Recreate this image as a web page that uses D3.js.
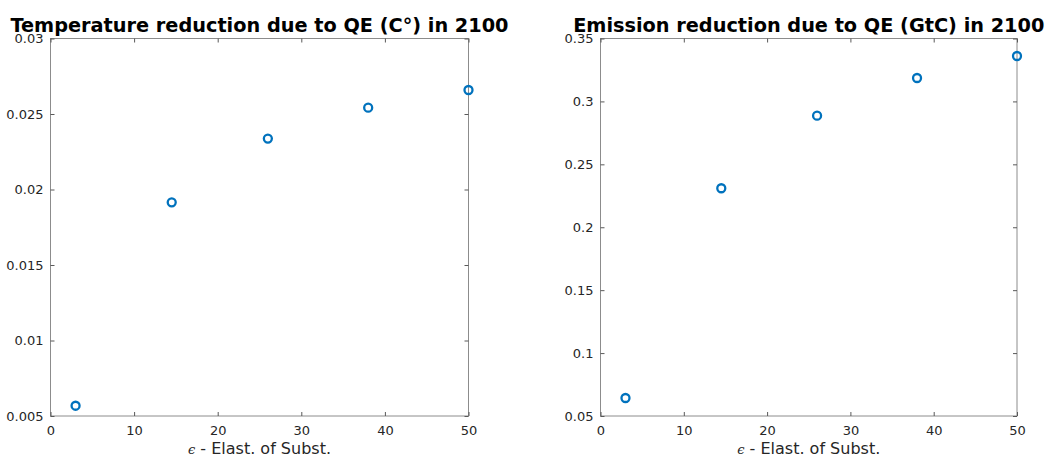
<!DOCTYPE html>
<html>
<head>
<meta charset="utf-8">
<script src="https://cdn.jsdelivr.net/npm/d3@7"></script>
<style>
  body { margin: 0; background: #fff; }
  svg { display: block; font-family: "DejaVu Sans", sans-serif; }
  .tick text { fill: #262626; font-size: 13px; font-family: "DejaVu Sans", sans-serif; }
  .domain { display: none; }
</style>
</head>
<body>
<svg id="fig" width="1046" height="458"></svg>
<script>
// valeurs
const elasticite = [3, 14.5, 26, 38, 50];
const tempReduction = [0.00568, 0.01915, 0.02337, 0.02542, 0.02659];
const emisReduction = [0.0643, 0.231, 0.2887, 0.3186, 0.3361];

const xTicks = [0, 10, 20, 30, 40, 50];
const tempTicks = [0.005, 0.01, 0.015, 0.02, 0.025, 0.03];
const emisTicks = [0.05, 0.1, 0.15, 0.2, 0.25, 0.3, 0.35];

const titres = ["Temperature reduction due to QE (C°) in 2100",
                "Emission reduction due to QE (GtC) in 2100"];

const svg = d3.select("#fig");

function drawPanel(left, right, yVals, yTicks, titre) {
    const top = 38.5, bottom = 416;
    const g = svg.append("g");

    const x = d3.scaleLinear().domain([0, 50]).range([left, right]);
    const y = d3.scaleLinear().domain([yTicks[0], yTicks[yTicks.length - 1]]).range([bottom, top]);

    // boite
    g.append("rect")
        .attr("x", left).attr("y", top)
        .attr("width", right - left).attr("height", bottom - top)
        .attr("fill", "none").attr("stroke", "#8c8c8c").attr("stroke-width", 1);

    // axes avec ticks vers l'intérieur
    g.append("g").attr("transform", "translate(0," + bottom + ")")
        .call(d3.axisBottom(x).tickValues(xTicks).tickSizeInner(-4).tickSizeOuter(0).tickPadding(10).tickFormat(d3.format("d")));
    g.append("g").attr("transform", "translate(0," + top + ")")
        .call(d3.axisTop(x).tickValues(xTicks).tickSizeInner(-4).tickSizeOuter(0).tickFormat(""));
    g.append("g").attr("transform", "translate(" + left + ",0)")
        .call(d3.axisLeft(y).tickValues(yTicks).tickSizeInner(-4).tickSizeOuter(0).tickPadding(7).tickFormat(d => d3.format("~g")(+d.toFixed(4))));
    g.append("g").attr("transform", "translate(" + right + ",0)")
        .call(d3.axisRight(y).tickValues(yTicks).tickSizeInner(-4).tickSizeOuter(0).tickFormat(""));

    g.selectAll(".tick line").attr("stroke", "#595959");

    // titre
    g.append("text")
        .attr("x", (left + right) / 2).attr("y", 31.5)
        .attr("text-anchor", "middle")
        .style("font-weight", "bold").style("font-size", "19.3px")
        .text(titre);

    // label x
    const lab = g.append("text")
        .attr("x", (left + right) / 2).attr("y", 454)
        .attr("text-anchor", "middle")
        .style("font-size", "16px").attr("fill", "#262626");
    lab.append("tspan").style("font-family", "'DejaVu Serif', serif").style("font-style", "italic").style("font-size", "13px").text("ϵ");
    lab.append("tspan").text(" - Elast. of Subst.");

    // points
    g.selectAll("circle.pt")
        .data(elasticite.map((e, i) => ({ e: e, v: yVals[i] })))
        .enter()
        .append("circle")
        .attr("class", "pt")
        .attr("cx", d => x(d.e))
        .attr("cy", d => y(d.v))
        .attr("r", 4)
        .attr("fill", "none")
        .attr("stroke", "#0072BD")
        .attr("stroke-width", 2.3);
}

drawPanel(50.5, 468.5, tempReduction, tempTicks, titres[0]);
drawPanel(600.5, 1017, emisReduction, emisTicks, titres[1]);
</script>
</body>
</html>
